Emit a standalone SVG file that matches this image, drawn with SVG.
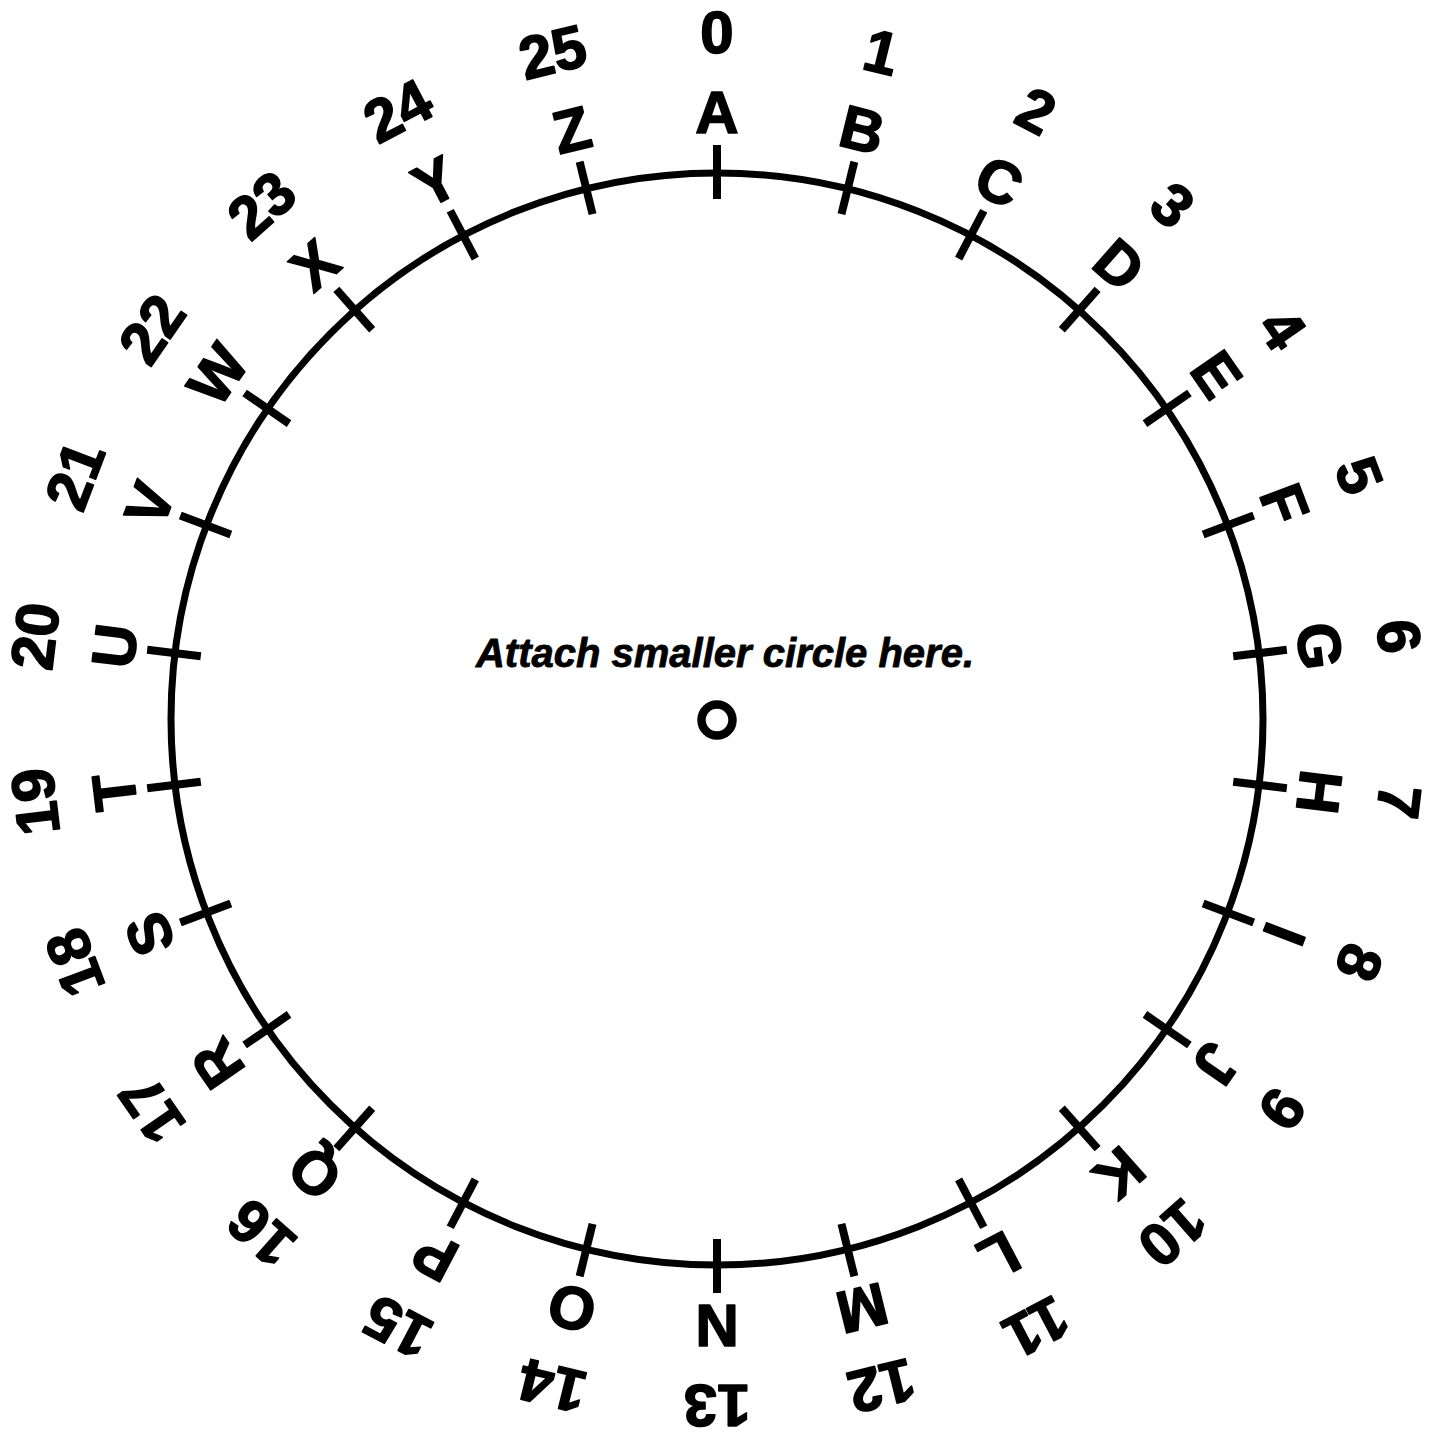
<svg xmlns="http://www.w3.org/2000/svg" width="1440" height="1433" viewBox="0 0 1440 1433">
<style>
.ring{fill:none;stroke:#000;stroke-width:7}
.hole{fill:none;stroke:#000;stroke-width:8.5}
.tick{stroke:#000;stroke-width:8}
.lbl{font-family:"Liberation Sans",Arial,sans-serif;font-weight:bold;font-size:60px;fill:#000;stroke:#000;stroke-width:1.6;stroke-linejoin:round;text-anchor:middle}
.note{font-family:"Liberation Sans",Arial,sans-serif;font-weight:bold;font-style:italic;font-size:40px;fill:#000;stroke:#000;stroke-width:0.8;stroke-linejoin:round;text-anchor:middle}
</style>
<rect width="1440" height="1433" fill="#fff"/>
<circle class="ring" cx="717" cy="719" r="546"/>
<circle id="center-hole" class="hole" cx="717" cy="720" r="15.5"/>
<text id="note" class="note" x="725" y="667">Attach smaller circle here.</text>
<defs>
<g id="tk"><line class="tick" x1="717" y1="145" x2="717" y2="199"/></g>
</defs>
<g id="s0" transform="rotate(0 717 719)"><use href="#tk"/><text class="lbl" x="717" y="133">A</text><text class="lbl" x="717" y="53">0</text></g>
<g id="s1" transform="rotate(13.8462 717 719)"><use href="#tk"/><text class="lbl" x="717" y="133">B</text><text class="lbl" x="717" y="53">1</text></g>
<g id="s2" transform="rotate(27.6923 717 719)"><use href="#tk"/><text class="lbl" x="717" y="133">C</text><text class="lbl" x="717" y="53">2</text></g>
<g id="s3" transform="rotate(41.5385 717 719)"><use href="#tk"/><text class="lbl" x="717" y="133">D</text><text class="lbl" x="717" y="53">3</text></g>
<g id="s4" transform="rotate(55.3846 717 719)"><use href="#tk"/><text class="lbl" x="717" y="133">E</text><text class="lbl" x="717" y="53">4</text></g>
<g id="s5" transform="rotate(69.2308 717 719)"><use href="#tk"/><text class="lbl" x="717" y="133">F</text><text class="lbl" x="717" y="53">5</text></g>
<g id="s6" transform="rotate(83.0769 717 719)"><use href="#tk"/><text class="lbl" x="717" y="133">G</text><text class="lbl" x="717" y="53">6</text></g>
<g id="s7" transform="rotate(96.9231 717 719)"><use href="#tk"/><text class="lbl" x="717" y="133">H</text><text class="lbl" x="717" y="53">7</text></g>
<g id="s8" transform="rotate(110.7692 717 719)"><use href="#tk"/><text class="lbl" x="717" y="133">I</text><text class="lbl" x="717" y="53">8</text></g>
<g id="s9" transform="rotate(124.6154 717 719)"><use href="#tk"/><text class="lbl" x="717" y="133">J</text><text class="lbl" x="717" y="53">9</text></g>
<g id="s10" transform="rotate(138.4615 717 719)"><use href="#tk"/><text class="lbl" x="717" y="133">K</text><text class="lbl" x="717" y="53">10</text></g>
<g id="s11" transform="rotate(152.3077 717 719)"><use href="#tk"/><text class="lbl" x="717" y="133">L</text><text class="lbl" x="717" y="53">11</text></g>
<g id="s12" transform="rotate(166.1538 717 719)"><use href="#tk"/><text class="lbl" x="717" y="133">M</text><text class="lbl" x="717" y="53">12</text></g>
<g id="s13" transform="rotate(180 717 719)"><use href="#tk"/><text class="lbl" x="717" y="133">N</text><text class="lbl" x="717" y="53">13</text></g>
<g id="s14" transform="rotate(193.8462 717 719)"><use href="#tk"/><text class="lbl" x="717" y="133">O</text><text class="lbl" x="717" y="53">14</text></g>
<g id="s15" transform="rotate(207.6923 717 719)"><use href="#tk"/><text class="lbl" x="717" y="133">P</text><text class="lbl" x="717" y="53">15</text></g>
<g id="s16" transform="rotate(221.5385 717 719)"><use href="#tk"/><text class="lbl" x="717" y="133">Q</text><text class="lbl" x="717" y="53">16</text></g>
<g id="s17" transform="rotate(235.3846 717 719)"><use href="#tk"/><text class="lbl" x="717" y="133">R</text><text class="lbl" x="717" y="53">17</text></g>
<g id="s18" transform="rotate(249.2308 717 719)"><use href="#tk"/><text class="lbl" x="717" y="133">S</text><text class="lbl" x="717" y="53">18</text></g>
<g id="s19" transform="rotate(263.0769 717 719)"><use href="#tk"/><text class="lbl" x="717" y="133">T</text><text class="lbl" x="717" y="53">19</text></g>
<g id="s20" transform="rotate(276.9231 717 719)"><use href="#tk"/><text class="lbl" x="717" y="133">U</text><text class="lbl" x="717" y="53">20</text></g>
<g id="s21" transform="rotate(290.7692 717 719)"><use href="#tk"/><text class="lbl" x="717" y="133">V</text><text class="lbl" x="717" y="53">21</text></g>
<g id="s22" transform="rotate(304.6154 717 719)"><use href="#tk"/><text class="lbl" x="717" y="133">W</text><text class="lbl" x="717" y="53">22</text></g>
<g id="s23" transform="rotate(318.4615 717 719)"><use href="#tk"/><text class="lbl" x="717" y="133">X</text><text class="lbl" x="717" y="53">23</text></g>
<g id="s24" transform="rotate(332.3077 717 719)"><use href="#tk"/><text class="lbl" x="717" y="133">Y</text><text class="lbl" x="717" y="53">24</text></g>
<g id="s25" transform="rotate(346.1538 717 719)"><use href="#tk"/><text class="lbl" x="717" y="133">Z</text><text class="lbl" x="717" y="53">25</text></g>
</svg>
